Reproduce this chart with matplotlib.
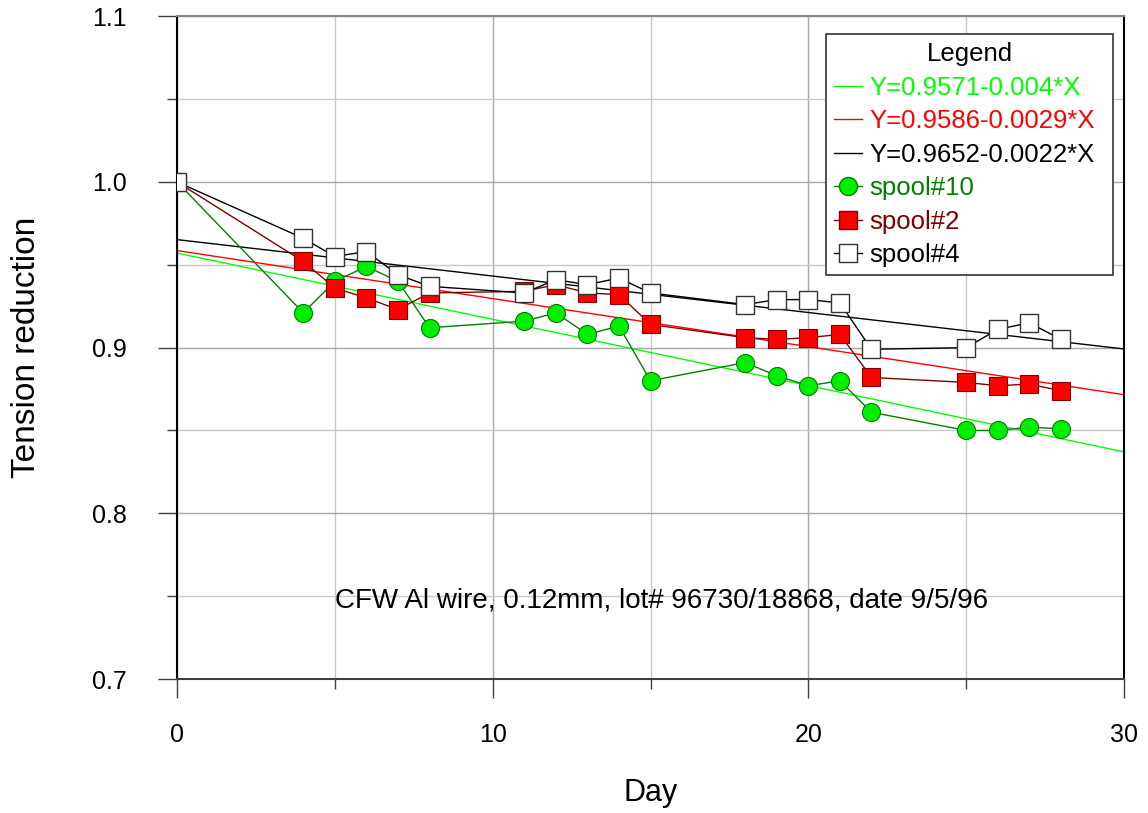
import matplotlib
matplotlib.use("Agg")
import matplotlib.pyplot as plt
from matplotlib.lines import Line2D
import numpy as np

plt.rcParams['font.family'] = ['Liberation Sans', 'DejaVu Sans']

# data
days = [0, 4, 5, 6, 7, 8, 11, 12, 13, 14, 15, 18, 19, 20, 21, 22, 25, 26, 27, 28]
spool10 = [1.000, 0.921, 0.940, 0.949, 0.940, 0.912, 0.916, 0.921, 0.908, 0.913,
           0.880, 0.891, 0.883, 0.877, 0.880, 0.861, 0.850, 0.850, 0.852, 0.851]
spool2 = [1.000, 0.952, 0.936, 0.930, 0.923, 0.933, 0.934, 0.938, 0.933, 0.932,
          0.914, 0.906, 0.905, 0.906, 0.908, 0.882, 0.879, 0.877, 0.878, 0.874]
spool4 = [1.000, 0.966, 0.955, 0.958, 0.944, 0.937, 0.933, 0.941, 0.938, 0.942,
          0.933, 0.926, 0.929, 0.929, 0.927, 0.899, 0.900, 0.911, 0.915, 0.905]

# linear fits (intercept, slope) as printed in the legend
fits = [(0.9571, -0.004), (0.9586, -0.0029), (0.9652, -0.0022)]
fit_labels = ['Y=0.9571-0.004*X', 'Y=0.9586-0.0029*X', 'Y=0.9652-0.0022*X']
fit_colors = ['#00ff00', '#ff0000', '#000000']

fig = plt.figure(figsize=(11.48, 8.13), dpi=100)
ax = fig.add_axes([0.1542, 0.1648, 0.8249, 0.8152])

ax.set_xlim(0, 30)
ax.set_ylim(0.7, 1.1)

# grid
ax.set_xticks([0, 10, 20, 30])
ax.set_xticks([5, 15, 25], minor=True)
ax.set_yticks([0.7, 0.8, 0.9, 1.0, 1.1])
ax.set_yticks([0.75, 0.85, 0.95, 1.05], minor=True)
ax.grid(True, which='major', color='#a8a8a8', linewidth=1.0)
ax.grid(True, which='minor', color='#c8c8c8', linewidth=1.0)
ax.set_axisbelow(True)

# fit lines
xfit = np.array([0, 30])
for (b, m), c in zip(fits, fit_colors):
    ax.plot(xfit, b + m * xfit, color=c, linewidth=1.0, zorder=2)

# data series (drawn back to front)
msize = 13
ax.plot(days, spool10, '-o', color='#008000', linewidth=1.0, markersize=msize,
        markerfacecolor='#00ee00', markeredgecolor='#008000', markeredgewidth=0.8, zorder=3)
ax.plot(days, spool2, '-s', color='#800000', linewidth=1.0, markersize=msize,
        markerfacecolor='#ff0000', markeredgecolor='#800000', markeredgewidth=0.8, zorder=4)
ax.plot(days, spool4, '-s', color='#000000', linewidth=1.0, markersize=msize,
        markerfacecolor='white', markeredgecolor='#333333', markeredgewidth=1.0, zorder=5)

# spines
ax.spines['left'].set_color('black')
ax.spines['right'].set_color('black')
ax.spines['bottom'].set_color('#404040')
ax.spines['top'].set_color('#888888')
for s in ax.spines.values():
    s.set_linewidth(1.5)

ax.tick_params(axis='both', which='major', direction='out', length=14, width=1,
               color='#404040', labelsize=18)
ax.tick_params(axis='both', which='minor', direction='out', length=7, width=1, color='#404040')
ax.tick_params(axis='x', which='major', pad=18)
ax.tick_params(axis='y', which='major', pad=22)
ax.set_yticklabels(['0.7', '0.8', '0.9', '1.0', '1.1'])
ax.set_xticklabels(['0', '10', '20', '30'])

ax.set_xlabel('Day', fontsize=22, va='center')
ax.xaxis.set_label_coords(0.5, -0.172)
ax.set_ylabel('Tension reduction', fontsize=24, va='center')
ax.yaxis.set_label_coords(-0.159, 0.5)

ax.text(15.36, 0.7474, 'CFW Al wire, 0.12mm, lot# 96730/18868, date 9/5/96',
        fontsize=20, ha='center', va='center', zorder=6)

# legend
handles = [Line2D([], [], color=c, linewidth=1.0) for c in fit_colors]
handles += [
    Line2D([], [], color='#008000', marker='o', markersize=msize, markerfacecolor='#00ee00',
           markeredgecolor='#008000', linewidth=1.0),
    Line2D([], [], color='#800000', marker='s', markersize=msize, markerfacecolor='#ff0000',
           markeredgecolor='#800000', linewidth=1.0),
    Line2D([], [], color='#000000', marker='s', markersize=msize, markerfacecolor='white',
           markeredgecolor='#333333', linewidth=1.0),
]
labels = fit_labels + ['spool#10', 'spool#2', 'spool#4']
leg = ax.legend(handles, labels, title='Legend', loc='upper left',
                bbox_to_anchor=(0.6853, 0.5, 0.3031, 0.4728), mode='expand', borderaxespad=0,
                fontsize=18.5, title_fontsize=18.5,
                handlelength=1.1, handletextpad=0.3, labelspacing=0.37,
                borderpad=0.3, fancybox=False, framealpha=1, edgecolor='#333333')
leg.get_frame().set_linewidth(1.2)
leg.set_zorder(10)
for t, c in zip(leg.get_texts(), ['#00ff00', '#ff0000', '#000000', '#008000', '#800000', '#000000']):
    t.set_color(c)

fig.savefig('out.png', dpi=100)
